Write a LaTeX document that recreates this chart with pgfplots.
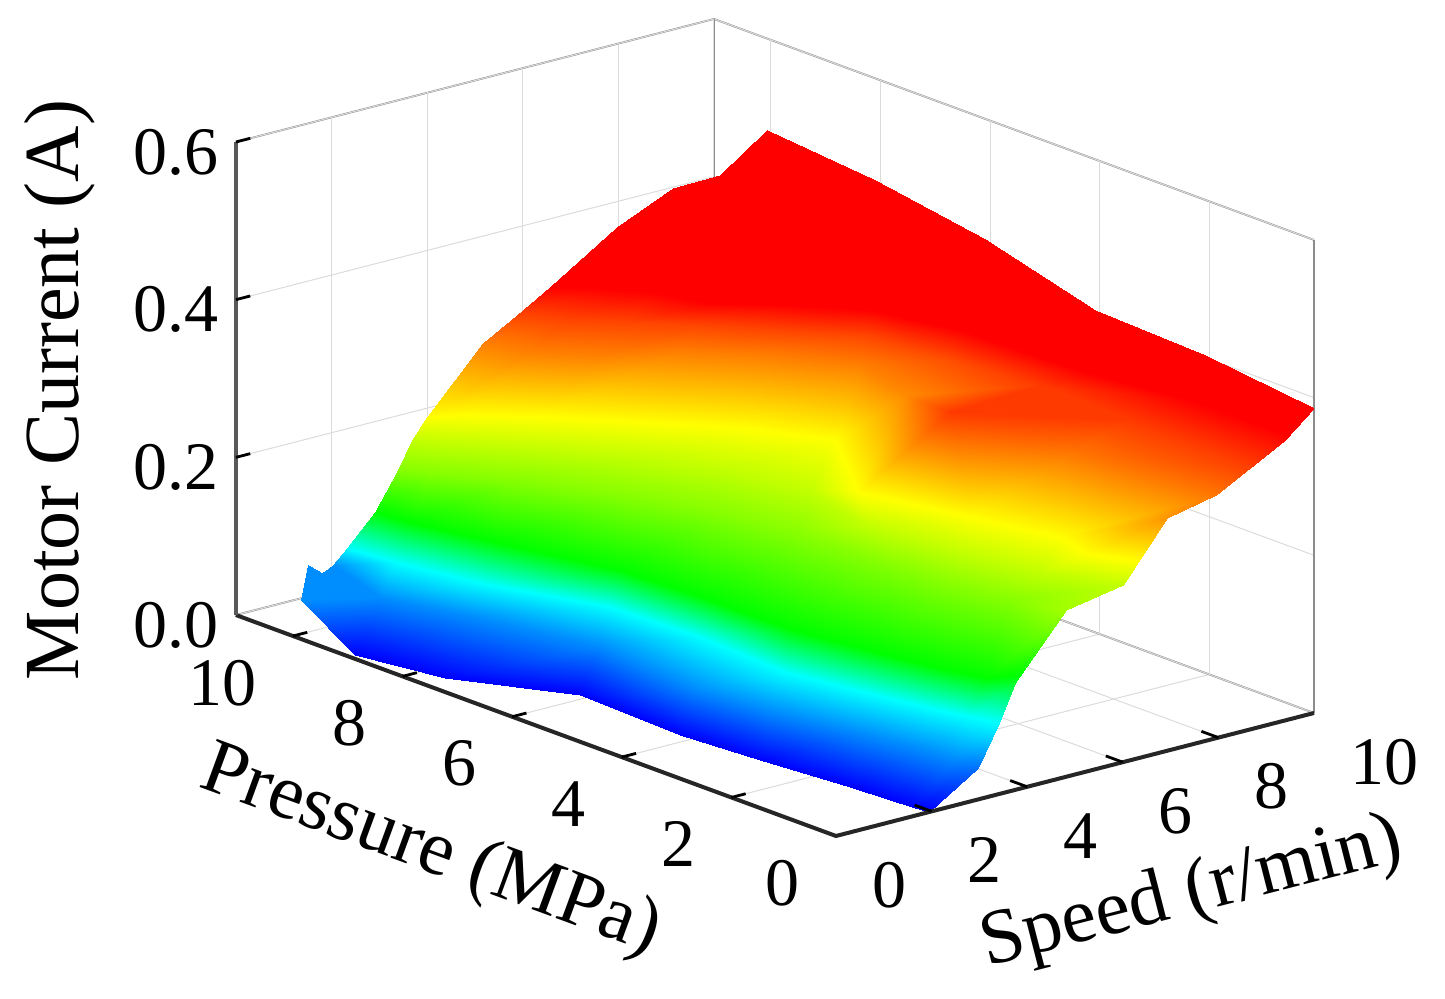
\documentclass[border=0pt]{standalone}
\usepackage{fontspec}
\setmainfont{Liberation Serif}
\usepackage{pgfplots}
\pgfplotsset{compat=1.18}

\begin{document}
% 1px of the reference = 0.5pt, page is 722.5pt x 499.5pt
\begin{tikzpicture}
\path[use as bounding box] (0pt,0pt) rectangle (722.5pt,499.5pt);
\begin{axis}[
    at={(418pt,81.5pt)}, anchor=origin,
    x={(23.9pt,6.15pt)}, y={(-27.4pt,10.09pt)}, z={(0pt,394.2pt)},
    xmin=0, xmax=10, ymin=0.09, ymax=11.04, zmin=0, zmax=0.6,
    clip=false,
    xtick={0,2,4,6,8,10}, ytick={0.09,2,4,6,8,10}, ztick={0,0.2,0.4,0.6},
    xticklabels={0,2,4,6,8,10}, yticklabels={0,2,4,6,8,10}, zticklabels={0.0,0.2,0.4,0.6},
    tick label style={font=\fontsize{34}{38}\selectfont},
    xticklabel style={anchor=west, xshift=14.5pt, yshift=-24.5pt},
    yticklabel style={anchor=east, xshift=-14.5pt, yshift=-23.5pt},
    zticklabel style={anchor=east, xshift=-5pt, yshift=-5pt},
    label style={font=\fontsize{39}{44}\selectfont},
    xlabel={Speed (r/min)},
    xlabel style={at={(rel axis cs:0.2387,-0.4,0)}, anchor=center, rotate=14.4, xshift=1pt},
    ylabel={Pressure (MPa)},
    ylabel style={at={(rel axis cs:-0.547,0.241,0)}, anchor=center, rotate=-20.2, xshift=1pt, yshift=-1pt},
    zlabel={Motor Current (A)},
    zlabel style={at={(rel axis cs:0.5227,1.718,0)}, anchor=center, rotate=0, xshift=1pt, yshift=-2.5pt},
    axis line style={draw=black!45, line width=0.9pt},
    grid=major,
    major grid style={draw=black!14, line width=0.5pt},
    tick style={draw=none},
    major tick length=0pt,
    colormap={currentmap}{rgb255(0)=(0,0,255) rgb255(90)=(0,255,255) rgb255(145)=(0,255,0)
        rgb255(250)=(255,255,0) rgb255(360)=(255,0,0) rgb255(600)=(255,0,0)},
    point meta min=0, point meta max=0.6,
]
\addplot3[surf, shader=interp, mesh/rows=11, mesh/cols=10, point meta=z] table {
x y z
0.00 9.85 0.05
0.13 8.98 0.00
0.47 7.63 0.00
1.56 6.12 0.00
1.46 4.21 0.00
1.61 2.88 0.00
1.81 1.41 0.00
1.87 0.74 0.00
1.91 0.31 0.00
1.95 0.09 0.00

1.55 10.62 0.05
1.06 9.33 0.05
1.56 8.14 0.05
2.16 6.29 0.05
1.89 4.32 0.05
2.08 3.11 0.05
2.46 1.80 0.05
2.66 0.88 0.05
2.76 0.32 0.05
2.97 0.09 0.04

1.24 10.10 0.09
1.36 9.32 0.09
1.70 8.07 0.09
2.50 6.40 0.09
2.61 4.84 0.09
2.49 3.19 0.09
2.81 1.95 0.09
3.07 1.05 0.09
3.26 0.48 0.09
3.41 0.09 0.09

1.33 9.67 0.145
1.43 9.11 0.145
1.81 7.89 0.145
2.41 6.13 0.145
2.52 4.68 0.145
2.53 3.13 0.145
2.84 1.77 0.145
3.08 0.88 0.145
3.30 0.24 0.145
3.74 0.09 0.136

1.57 9.45 0.20
1.87 9.12 0.20
2.62 8.32 0.20
3.53 6.92 0.20
4.07 5.85 0.20
4.35 4.55 0.20
4.46 2.99 0.20
4.53 1.96 0.20
4.76 1.08 0.20
4.81 0.09 0.212

2.09 9.65 0.225
2.40 9.32 0.225
3.22 8.56 0.225
4.36 7.38 0.225
5.00 6.39 0.225
5.32 5.20 0.225
4.87 3.75 0.225
5.10 2.27 0.225
5.41 1.09 0.225
6.00 0.09 0.225

2.39 9.64 0.25
2.92 9.41 0.25
3.78 8.78 0.25
5.05 7.71 0.25
5.93 6.92 0.25
6.64 5.90 0.25
5.19 4.21 0.25
5.73 2.64 0.25
6.17 1.38 0.25
6.92 0.09 0.296

4.10 10.11 0.305
4.38 9.50 0.305
5.14 8.88 0.305
6.23 8.37 0.305
6.99 7.75 0.305
8.01 6.64 0.305
7.69 5.54 0.30
6.75 3.90 0.335
7.61 2.37 0.31
7.95 0.09 0.309

4.80 10.10 0.33
5.22 9.59 0.33
5.89 9.08 0.33
6.66 8.47 0.33
7.41 7.76 0.33
8.42 6.90 0.33
8.70 5.69 0.325
8.77 4.01 0.335
8.70 2.32 0.335
8.66 0.09 0.332

5.35 9.98 0.36
5.93 9.57 0.36
6.41 9.08 0.36
6.78 8.30 0.36
7.70 7.64 0.36
8.52 6.90 0.36
8.96 5.64 0.36
9.10 3.48 0.36
9.45 1.87 0.36
9.39 0.09 0.356

5.35 9.98 0.36
7.66 10.77 0.38
9.12 11.02 0.40
10.00 10.93 0.405
10.00 10.08 0.484
10.00 8.10 0.471
10.00 6.09 0.447
10.00 4.09 0.409
10.00 2.08 0.403
10.00 0.09 0.387
};
% small jagged piece at the far low corner
\addplot3[surf, shader=interp, mesh/rows=2, mesh/cols=3, point meta=z] table {
x y z
0.00 9.85 0.05
0.00 9.85 0.05
1.55 10.62 0.05

1.24 10.81 0.05
1.15 10.47 0.05
1.55 10.62 0.05
};
% front axis lines and the ticks on them only
\draw[black!85, line width=2pt] (axis cs:0,11.04,0) -- (axis cs:0,0.09,0) -- (axis cs:10,0.09,0);
\draw[black!65, line width=2.4pt] (axis cs:0,11.04,0) -- (axis cs:0,11.04,0.6);
\draw[black, line width=1.4pt]
    (axis cs:2,0.09,0) -- (axis cs:2,0.4,0)
    (axis cs:4,0.09,0) -- (axis cs:4,0.4,0)
    (axis cs:6,0.09,0) -- (axis cs:6,0.4,0)
    (axis cs:8,0.09,0) -- (axis cs:8,0.4,0)
    (axis cs:0,2,0) -- (axis cs:0.3,2,0)
    (axis cs:0,4,0) -- (axis cs:0.3,4,0)
    (axis cs:0,6,0) -- (axis cs:0.3,6,0)
    (axis cs:0,8,0) -- (axis cs:0.3,8,0)
    (axis cs:0,10,0) -- (axis cs:0.3,10,0)
    (axis cs:0,11.04,0.2) -- (axis cs:0.3,11.04,0.2)
    (axis cs:0,11.04,0.4) -- (axis cs:0.3,11.04,0.4)
    (axis cs:0,11.04,0.6) -- (axis cs:0.3,11.04,0.6);
\end{axis}
\end{tikzpicture}
\end{document}
